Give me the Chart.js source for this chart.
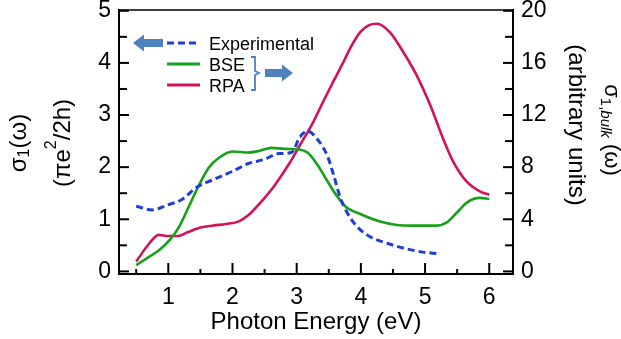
<!DOCTYPE html>
<html>
<head>
<meta charset="utf-8">
<script src="https://cdn.jsdelivr.net/npm/chart.js@4/dist/chart.umd.min.js"></script>
<style>
  html, body { margin: 0; padding: 0; background: #fff; }
  #wrap { width: 621px; height: 339px; }
</style>
</head>
<body>
<div id="wrap"><canvas id="c" width="621" height="339"></canvas></div>
<script>
// measured photon energies (eV) and conductivities
const expEnergy = [0.5, 0.75, 1.0, 1.2, 1.45, 1.7, 2.0, 2.25, 2.5, 2.72, 2.92, 3.05, 3.17, 3.32, 3.48, 3.58, 3.68, 3.79, 3.94, 4.15, 4.41, 4.72, 4.97, 5.2];
const expSigma = [1.25, 1.18, 1.28, 1.37, 1.62, 1.76, 1.92, 2.07, 2.15, 2.26, 2.28, 2.58, 2.69, 2.54, 2.21, 1.83, 1.41, 1.12, 0.86, 0.66, 0.54, 0.43, 0.37, 0.34];

// BSE (right axis, arbitrary units)
const bseEnergy = [0.5, 0.7, 0.86, 1.02, 1.17, 1.32, 1.48, 1.63, 1.79, 2.0, 2.25, 2.41, 2.61, 2.82, 3.04, 3.17, 3.32, 3.48, 3.63, 3.76, 3.99, 4.3, 4.56, 4.82, 5.18, 5.34, 5.49, 5.65, 5.85, 6.0];
const bseSigma = [0.48, 1.12, 1.64, 2.4, 3.44, 4.98, 6.64, 7.96, 8.72, 9.2, 9.12, 9.24, 9.48, 9.4, 9.36, 9.12, 8.2, 6.92, 5.76, 4.98, 4.4, 3.82, 3.56, 3.51, 3.51, 3.76, 4.48, 5.28, 5.64, 5.56];

// RPA (right axis, arbitrary units)
const rpaEnergy = [0.5, 0.7, 0.85, 1.0, 1.15, 1.3, 1.5, 1.7, 1.9, 2.1, 2.25, 2.45, 2.65, 2.88, 3.05, 3.26, 3.41, 3.57, 3.73, 3.86, 3.99, 4.12, 4.25, 4.45, 4.66, 4.87, 5.08, 5.28, 5.44, 5.65, 5.86, 6.0];
const rpaSigma = [0.76, 2.12, 2.8, 2.72, 2.72, 3.0, 3.36, 3.52, 3.64, 3.84, 4.32, 5.36, 6.56, 8.24, 9.68, 11.48, 13.0, 14.56, 16.08, 17.36, 18.36, 18.88, 19.0, 18.36, 16.84, 15.04, 12.76, 10.2, 8.4, 6.88, 6.12, 5.88];

const xTicks = [1, 2, 3, 4, 5, 6];
const xMinor = [0.5, 1.5, 2.5, 3.5, 4.5, 5.5];
const yTicks = [0, 1, 2, 3, 4, 5];
const yMinor = [0.5, 1.5, 2.5, 3.5, 4.5];
const y1Ticks = [0, 4, 8, 12, 16, 20];
const y1Minor = [2, 6, 10, 14, 18];

const FONT = "'Liberation Sans', Arial, sans-serif";
const BLUE = '#1f3fd4';
const GREEN = '#17a01a';
const RED = '#d2125a';
const ARROW = '#4f81bd';

const pts = (xs, ys) => xs.map((x, i) => ({ x, y: ys[i] }));

function richText(ctx, parts, cx, cy, rot) {
  ctx.save();
  ctx.translate(cx, cy);
  ctx.rotate(rot);
  let total = 0;
  parts.forEach(p => { ctx.font = p.font; p.w = ctx.measureText(p.t).width; total += p.w; });
  let x = -total / 2;
  ctx.textAlign = 'left';
  ctx.textBaseline = 'middle';
  parts.forEach(p => { ctx.font = p.font; ctx.fillText(p.t, x, p.dy || 0); x += p.w; });
  ctx.restore();
}

const decor = {
  id: 'decor',
  afterDraw(chart) {
    const ctx = chart.ctx, a = chart.chartArea;
    const sx = chart.scales.x, yl = chart.scales.y, yr = chart.scales.y1;
    ctx.save();
    ctx.strokeStyle = '#000';
    ctx.lineWidth = 1.5;
    ctx.beginPath(); ctx.moveTo(a.left, a.top); ctx.lineTo(a.right, a.top); ctx.stroke();

    ctx.lineWidth = 2;
    const seg = (x1, y1, x2, y2) => { ctx.beginPath(); ctx.moveTo(x1, y1); ctx.lineTo(x2, y2); ctx.stroke(); };
    xTicks.forEach(v => { const p = sx.getPixelForValue(v); seg(p, a.bottom, p, a.bottom - 11); });
    xMinor.forEach(v => { const p = sx.getPixelForValue(v); seg(p, a.bottom, p, a.bottom - 5); });
    yTicks.forEach(v => { const p = yl.getPixelForValue(v); seg(a.left, p, a.left + 10, p); });
    yMinor.forEach(v => { const p = yl.getPixelForValue(v); seg(a.left, p, a.left + 8, p); });
    y1Ticks.forEach(v => { const p = yr.getPixelForValue(v); seg(a.right, p, a.right - 10, p); });
    y1Minor.forEach(v => { const p = yr.getPixelForValue(v); seg(a.right, p, a.right - 8, p); });

    // legend
    ctx.lineWidth = 3;
    ctx.strokeStyle = BLUE; ctx.setLineDash([7, 4]);
    seg(167, 43, 200, 43);
    ctx.setLineDash([]);
    ctx.strokeStyle = GREEN; seg(167, 64, 200, 64);
    ctx.strokeStyle = RED; seg(167, 85, 200, 85);
    ctx.fillStyle = '#000';
    ctx.font = '18px ' + FONT;
    ctx.textAlign = 'left'; ctx.textBaseline = 'alphabetic';
    ctx.fillText('Experimental', 209, 49.5);
    ctx.fillText('BSE', 209, 70.5);
    ctx.fillText('RPA', 209, 91.5);

    // arrows and bracket
    ctx.fillStyle = ARROW;
    ctx.beginPath();
    ctx.moveTo(133, 43); ctx.lineTo(144, 34.5); ctx.lineTo(144, 39); ctx.lineTo(163, 39);
    ctx.lineTo(163, 47); ctx.lineTo(144, 47); ctx.lineTo(144, 51.5); ctx.closePath(); ctx.fill();
    ctx.beginPath();
    ctx.moveTo(293, 73); ctx.lineTo(282, 64.5); ctx.lineTo(282, 69); ctx.lineTo(265, 69);
    ctx.lineTo(265, 77); ctx.lineTo(282, 77); ctx.lineTo(282, 81.5); ctx.closePath(); ctx.fill();
    ctx.strokeStyle = ARROW; ctx.lineWidth = 1.8;
    ctx.beginPath();
    ctx.moveTo(251, 57); ctx.lineTo(255, 57); ctx.lineTo(255, 71); ctx.lineTo(259, 73);
    ctx.lineTo(255, 75); ctx.lineTo(255, 90); ctx.lineTo(251, 90); ctx.stroke();

    // axis titles
    ctx.fillStyle = '#000';
    richText(ctx, [
      { t: 'σ', font: '24px ' + FONT },
      { t: '1', font: '16px ' + FONT, dy: 6 },
      { t: '(ω)', font: '24px ' + FONT }
    ], 19, 143, -Math.PI / 2);
    richText(ctx, [
      { t: '(πe', font: '24px ' + FONT },
      { t: '2', font: '16px ' + FONT, dy: -11 },
      { t: '/2h)', font: '24px ' + FONT }
    ], 63, 143, -Math.PI / 2);
    richText(ctx, [
      { t: 'σ', font: '22px ' + FONT },
      { t: '1,', font: '15px ' + FONT, dy: 6 },
      { t: 'bulk', font: 'italic 15px ' + FONT, dy: 6 },
      { t: ' (ω)', font: '22px ' + FONT }
    ], 611, 130, Math.PI / 2);
    richText(ctx, [
      { t: '(arbitrary units)', font: '24px ' + FONT }
    ], 576, 125, Math.PI / 2);
    ctx.restore();
  }
};

// tiny lineHeight so the top label does not push the plot area down
const tickFont = { family: FONT, size: 23, lineHeight: 0.15 };

new Chart(document.getElementById('c'), {
  type: 'line',
  data: {
    datasets: [
      { label: 'Experimental', data: pts(expEnergy, expSigma), yAxisID: 'y', borderColor: BLUE, borderWidth: 3, borderDash: [7, 4] },
      { label: 'BSE', data: pts(bseEnergy, bseSigma), yAxisID: 'y1', borderColor: GREEN, borderWidth: 2.6 },
      { label: 'RPA', data: pts(rpaEnergy, rpaSigma), yAxisID: 'y1', borderColor: RED, borderWidth: 2.6 }
    ]
  },
  options: {
    responsive: false,
    animation: false,
    devicePixelRatio: 1,
    layout: { padding: { top: 10, left: 0, right: 0, bottom: 0 } },
    elements: {
      point: { radius: 0 },
      line: { cubicInterpolationMode: 'monotone', fill: false }
    },
    plugins: { legend: { display: false }, tooltip: { enabled: false } },
    scales: {
      x: {
        type: 'linear', min: 0.232, max: 6.37,
        afterBuildTicks: s => { s.ticks = xTicks.map(v => ({ value: v })); },
        afterFit: s => { s.height = 65; },
        grid: { display: false, drawTicks: false },
        border: { display: true, color: '#000', width: 2 },
        ticks: { color: '#000', font: { family: FONT, size: 23 }, padding: 10, maxRotation: 0 },
        title: { display: true, text: 'Photon Energy (eV)', color: '#000', font: { family: FONT, size: 24 }, padding: { top: 0, bottom: 2 } }
      },
      y: {
        position: 'left', min: -0.05, max: 5.015,
        afterBuildTicks: s => { s.ticks = yTicks.map(v => ({ value: v })); },
        afterFit: s => { s.width = 119; },
        grid: { display: false, drawTicks: false },
        border: { display: true, color: '#000', width: 2 },
        ticks: { color: '#000', font: tickFont, padding: 8 }
      },
      y1: {
        position: 'right', min: -0.2, max: 20.06,
        afterBuildTicks: s => { s.ticks = y1Ticks.map(v => ({ value: v })); },
        afterFit: s => { s.width = 108; },
        grid: { display: false, drawTicks: false },
        border: { display: true, color: '#000', width: 2 },
        ticks: { color: '#000', font: tickFont, padding: 8 }
      }
    }
  },
  plugins: [decor]
});
</script>
</body>
</html>
